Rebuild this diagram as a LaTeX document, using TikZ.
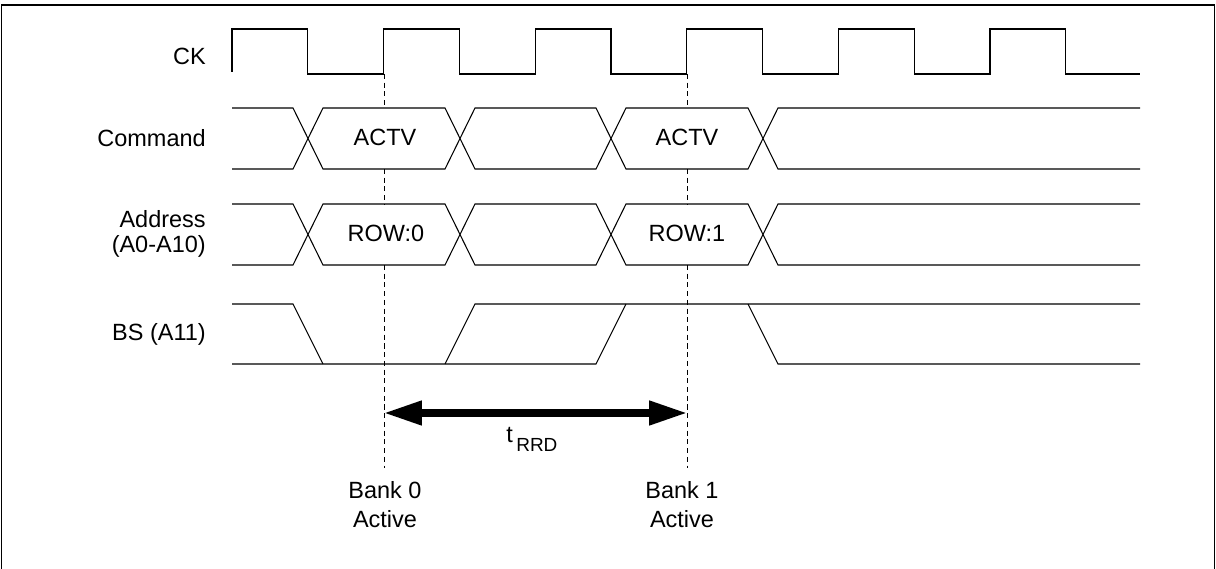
\documentclass[tikz,border=0pt]{standalone}
\usepackage{fontspec}
\setmainfont{Liberation Sans}
\usetikzlibrary{arrows.meta}
\begin{document}
\begin{tikzpicture}[x=.025cm, y=-.025cm,
  every node/.style={font=\fontsize{16.7}{20.6}\selectfont, inner sep=0pt},
  signame/.style={anchor=base east},
  wave/.style={draw=black, line width=.75pt},
  marker/.style={draw=black, line width=.6pt, dash pattern=on 3.6pt off 2.6pt},
  timing/.style={line width=5pt, {Triangle[length=27pt,width=16.5pt]}-{Triangle[length=27pt,width=16.5pt]}}]
\useasboundingbox (0,0) rectangle (1216,569);
% frame
\draw[line width=1.1pt] (1.5,569) -- (1.5,5) -- (1214.5,5) -- (1214.5,569);

% signal names
\node[signame] (ck) at (206,65) {CK};
\node[signame] (cmd) at (206,147) {Command};
\node[signame, anchor=east, align=right, font=\fontsize{16.7}{17.8}\selectfont] (addr) at (206,233.5) {Address\\(A0-A10)};
\node[signame] (bs) at (206,341) {BS (A11)};

% clock
\draw[wave] (232,72) \foreach \i in {0,...,5} {
  -- (232+\i*151.6,29) -- (307.8+\i*151.6,29) -- (307.8+\i*151.6,74) -- ({min(383.6+\i*151.6,1140)},74)};

% command and address buses
\foreach \yt/\yb in {108/169, 204/265} {
  \draw[wave] (232,\yt) -- (293,\yt) -- (323,\yb) -- (445,\yb) -- (475,\yt) -- (596,\yt) -- (626,\yb) -- (748,\yb) -- (778,\yt) -- (1140,\yt);
  \draw[wave] (232,\yb) -- (293,\yb) -- (323,\yt) -- (445,\yt) -- (475,\yb) -- (596,\yb) -- (626,\yt) -- (748,\yt) -- (778,\yb) -- (1140,\yb);
}

% bank select
\draw[wave] (232,304) -- (293,304) -- (323,364);
\draw[wave] (232,364) -- (596,364) -- (626,304);
\draw[wave] (445,364) -- (475,304) -- (1140,304);
\draw[wave] (748,304) -- (778,364) -- (1140,364);

% bus contents
\node[anchor=base] (actv0) at (385,146) {ACTV};
\node[anchor=base] (actv1) at (687,146) {ACTV};
\node[anchor=base] (row0) at (386,242) {ROW:0};
\node[anchor=base] (row1) at (687,242) {ROW:1};

% bank activate markers
\foreach \x/\n in {384/0, 687/1} {
  \draw[marker] (\x,74) -- (\x,108) (\x,169) -- (\x,204) (\x,265) -- (\x,468);
  \coordinate (mark\n) at (\x,413);
}
\draw[timing] (mark0) -- (mark1);
\node[anchor=base west] (trrd) at (506,443) {t\hspace{2.5pt}\raisebox{-6.4pt}{\fontsize{13.5}{16}\selectfont RRD}};

\node[align=center] (bank0) at (385,505) {Bank 0\\Active};
\node[align=center] (bank1) at (682,505) {Bank 1\\Active};
\end{tikzpicture}
\end{document}
